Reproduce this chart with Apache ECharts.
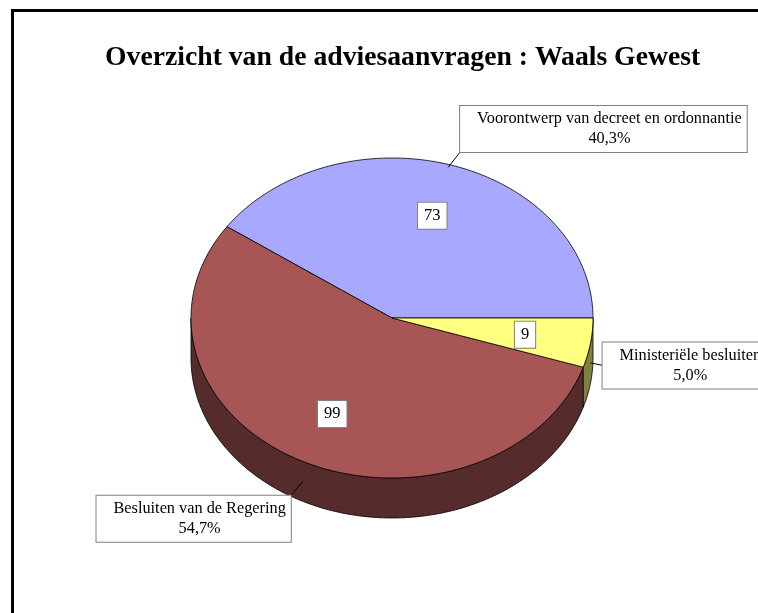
<!DOCTYPE html>
<html>
<head>
<meta charset="utf-8">
<script src="https://cdn.jsdelivr.net/npm/echarts@6/dist/echarts.min.js"></script>
<style>
  html, body { margin: 0; padding: 0; background: #fff; }
  #chart { width: 758px; height: 613px; }
</style>
</head>
<body>
<div id="chart"></div>
<script>
// data
const categories = ['Voorontwerp van decreet en ordonnantie', 'Besluiten van de Regering', 'Ministeriële besluiten'];
const counts = [73, 99, 9];
const topColors = ['#a8a8ff', '#a85555', '#ffff80'];
const sideColors = ['#54547f', '#552b2b', '#80803f'];

const FONT = "'Liberation Serif', 'Times New Roman', serif";
// ellipse layout of the tilted pie
const PIE = { cx: 392, cy: 318, rx: 201, ry: 160, depth: 40 };
const total = counts.reduce((a, b) => a + b, 0);

// slices go counter-clockwise from 3 o'clock; angles in degrees, screen y down
function sliceAngles(i) {
  let before = 0;
  for (let k = 0; k < i; k++) before += counts[k];
  const end = 360 - before / total * 360;
  const start = end - counts[i] / total * 360;
  return [start, end];
}

function pt(deg, dy) {
  const r = deg * Math.PI / 180;
  return [PIE.cx + PIE.rx * Math.cos(r), PIE.cy + PIE.ry * Math.sin(r) + (dy || 0)];
}

function arc(a, b, dy) {
  const pts = [];
  const n = Math.max(2, Math.ceil(Math.abs(b - a)));
  for (let k = 0; k <= n; k++) pts.push(pt(a + (b - a) * k / n, dy));
  return pts;
}

// front wall of a slice (only the part facing the viewer)
function renderSide(params, api) {
  const i = params.dataIndex;
  const [s, e] = sliceAngles(i);
  const children = [];
  [[0, 180], [360, 540]].forEach(([lo, hi]) => {
    const a = Math.max(s, lo), b = Math.min(e, hi);
    if (b <= a) return;
    const pts = arc(a, b, 0).concat(arc(b, a, PIE.depth));
    children.push({
      type: 'polygon',
      shape: { points: pts },
      style: { fill: sideColors[i], stroke: '#000', lineWidth: 0.8 }
    });
  });
  return { type: 'group', children };
}

function renderTop(params, api) {
  const i = params.dataIndex;
  const [s, e] = sliceAngles(i);
  const pts = [[PIE.cx, PIE.cy]].concat(arc(s, e, 0));
  return {
    type: 'polygon',
    shape: { points: pts },
    style: { fill: topColors[i], stroke: '#000', lineWidth: 0.8 }
  };
}

function renderLabels(params, api) {
  const i = params.dataIndex;
  const [s, e] = sliceAngles(i);
  const mid = (s + e) / 2 * Math.PI / 180;
  const c = Math.cos(mid), sn = Math.sin(mid);
  const inner = [PIE.cx + PIE.rx * c * 0.67, PIE.cy + PIE.ry * sn * 0.67];
  const front = sn > 0;
  const start = [PIE.cx + PIE.rx * c - (front ? 0 : 4), PIE.cy + PIE.ry * sn + (front ? PIE.depth / 2 : 2)];
  const end = [start[0] + 12 * Math.sign(c), start[1] + 16 * sn];
  const pct = (counts[i] / total * 100).toFixed(1).replace('.', ',') + '%';
  const align = c >= 0 ? 'left' : 'right';
  const vAlign = Math.abs(sn) < 0.4 ? 'middle' : (sn < 0 ? 'bottom' : 'top');
  return {
    type: 'group',
    children: [
      {
        type: 'line',
        shape: { x1: start[0], y1: start[1], x2: end[0], y2: end[1] },
        style: { stroke: '#000', lineWidth: 1 }
      },
      {
        type: 'text',
        x: end[0], y: end[1],
        style: {
          text: '{a|' + categories[i] + '}\n{a|' + pct + '}',
          rich: { a: { align: 'center', fontSize: 16.3, fontFamily: FONT, fill: '#000', lineHeight: 20 } },
          align: align,
          verticalAlign: vAlign,
          backgroundColor: '#fff',
          borderColor: '#808080',
          borderWidth: 1,
          padding: [3, 5, 3, 17]
        }
      },
      {
        type: 'text',
        x: inner[0], y: inner[1],
        style: {
          text: String(api.value(0)),
          fontSize: 16.5, fontFamily: FONT, fill: '#000',
          align: 'center', verticalAlign: 'middle',
          backgroundColor: '#fff',
          borderColor: '#808080',
          borderWidth: 1,
          padding: [5, 6, 4, 6]
        }
      }
    ]
  };
}

const chart = echarts.init(document.getElementById('chart'), null, { renderer: 'canvas' });

chart.setOption({
  animation: false,
  backgroundColor: '#fff',
  title: {
    text: 'Overzicht van de adviesaanvragen : Waals Gewest',
    left: 100,
    top: 39,
    textStyle: { fontFamily: FONT, fontSize: 27.7, fontWeight: 'bold', color: '#000' }
  },
  graphic: [{
    type: 'rect',
    silent: true,
    shape: { x: 12.5, y: 10.5, width: 800, height: 700 },
    style: { fill: 'none', stroke: '#000', lineWidth: 3 }
  }],
  series: [
    { type: 'custom', coordinateSystem: 'none', renderItem: renderSide, data: counts, silent: true },
    { type: 'custom', coordinateSystem: 'none', renderItem: renderTop, data: counts, silent: true },
    { type: 'custom', coordinateSystem: 'none', renderItem: renderLabels, data: counts, silent: true }
  ]
});
</script>
</body>
</html>
